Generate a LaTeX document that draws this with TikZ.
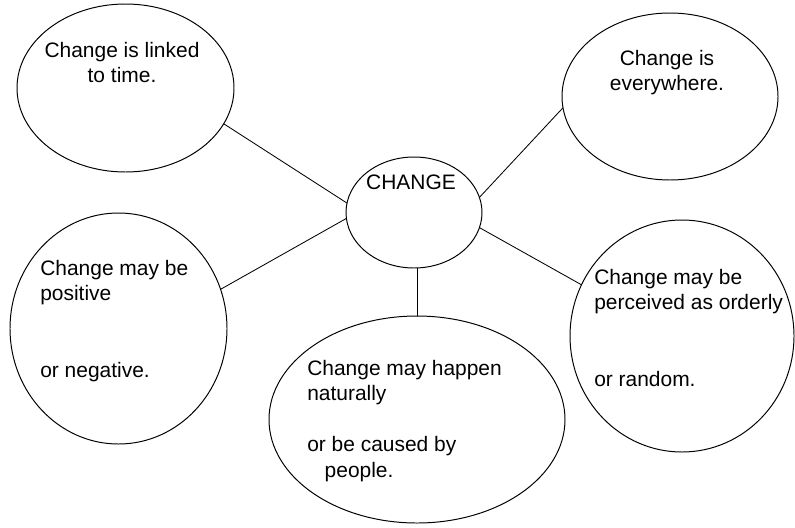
\documentclass[tikz,border=0pt]{standalone}
\usepackage{fontspec}
\setmainfont{Liberation Sans}
\usepackage{tikz}
\usetikzlibrary{
  calc,
  positioning,
  shapes,
}
\tikzset{
  bubble/.style={draw, ellipse, inner sep=0pt, outer sep=0pt, line width=0.7pt},
  ovalsize/.style 2 args={minimum width=#1*0.025cm, minimum height=#2*0.025cm},
  words/.style={inner sep=0pt, font=\fontsize{14.9}{18.1}\selectfont},
  link/.style={line width=0.6pt},
}

\begin{document}
\begin{tikzpicture}[x=0.025cm, y=-0.025cm]
      \useasboundingbox (0, 0) rectangle (795, 527);

      \node [bubble, ovalsize={217}{168}] (time) at (125.5, 88) {};
      \node [bubble, ovalsize={216}{167}] (everywhere) at (670, 96.5) {};
      \node [bubble, ovalsize={136}{111}] (change) at (414, 212.5) {};
      \node [bubble, ovalsize={217}{231}] (positive) at (118.5, 328.5) {};
      \node [bubble, ovalsize={296}{207}] (naturally) at (417, 419.5) {};
      \node [bubble, ovalsize={224}{232}] (orderly) at (682, 336) {};

      \node [words, align=center, anchor=north] (timetext) at (122, 42)
        {Change is linked\\to time.};
      \node [words, align=center, anchor=north] (everywheretext) at (667, 50)
        {Change is\\everywhere.};
      \node [words, anchor=north] (changetext) at (411, 175) {CHANGE};
      \node [words, align=left, anchor=north west] (positivetext) at (40, 260)
        {Change may be\\positive\\[2\baselineskip]or negative.};
      \node [words, align=left, anchor=north west] (naturallytext) at (307, 360)
        {Change may happen\\naturally\\[\baselineskip]or be caused by\\~~~people.};
      \node [words, align=left, anchor=north west] (orderlytext) at (594, 269)
        {Change may be\\perceived as orderly\\[2\baselineskip]or random.};

      % spokes
      \draw [link] (time.-20) -- (change.172);
      \draw [link] (change.13) -- (everywhere.-174);
      \draw [link] (change.185) -- (positive.21);
      \draw [link] (change.-13) -- (orderly.153);
      \draw [link] (naturally.north |- change.south) -- (naturally.north);
    \end{tikzpicture}
\end{document}
